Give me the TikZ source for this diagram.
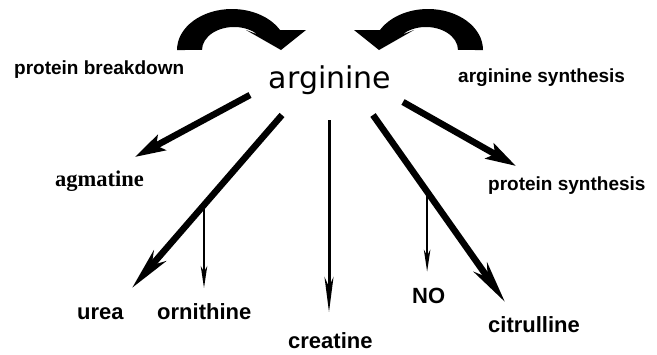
\documentclass[tikz,border=0pt]{standalone}
\usepackage{fontspec}
\setmainfont{Liberation Sans}
\newfontfamily\argfont{DejaVu Sans}
\newfontfamily\agfont{Liberation Serif}
\usetikzlibrary{arrows.meta,calc}
\begin{document}
\begin{tikzpicture}[x=1pt,y=-1pt,
  toplbl/.style={font=\bfseries\fontsize{19}{22}\selectfont, inner sep=0pt, anchor=base west},
  botlbl/.style={font=\bfseries\fontsize{22}{26}\selectfont, inner sep=0pt, anchor=base west},
  arglbl/.style={font=\argfont\fontsize{30}{34}\selectfont, inner sep=0pt, anchor=base},
  aglbl/.style={font=\agfont\bfseries\fontsize{22.5}{26}\selectfont, inner sep=0pt, anchor=base west},
  bigarrow/.style={line width=6.5pt, -{Stealth[length=30pt, width=17pt, inset=6pt]}},
  longarrow/.style={line width=6.5pt, -{Stealth[length=42pt, width=16pt, inset=12pt]}},
  medarrow/.style={line width=3pt, -{Stealth[length=35pt, width=9pt, inset=10pt]}},
  thinarrow/.style={line width=2.2pt, -{Stealth[length=22pt, width=6.5pt, inset=6pt]}},
  curl/.style={fill=black}
]
\useasboundingbox (0,0) rectangle (657,354);

% labels
\node[toplbl] (pb) at (14,74) {protein breakdown};
\node[toplbl] (as) at (458,82) {arginine synthesis};
\node[arglbl] (arg) at (330,88) {arginine};
\node[aglbl] (agm) at (55,186) {agmatine};
\node[toplbl] (ps) at (488,190) {protein synthesis};
\node[botlbl] (urea) at (77,319) {urea};
\node[botlbl] (orn) at (157,319) {ornithine};
\node[botlbl] (cre) at (288,348) {creatine};
\node[botlbl] (no) at (412,303) {NO};
\node[botlbl] (cit) at (488,332) {citrulline};

% curved input arrows
\fill[curl] (177,50) arc[start angle=180, end angle=331, x radius=55, y radius=41]
  -- (306,30) -- (281,50) -- (246,30) -- (257.8,34.6)
  arc[start angle=318, end angle=180, x radius=32, y radius=23] -- cycle;
\fill[curl] (483,50) arc[start angle=360, end angle=209, x radius=55, y radius=41]
  -- (354,30) -- (379,50) -- (414,30) -- (402.2,34.6)
  arc[start angle=222, end angle=360, x radius=32, y radius=23] -- cycle;

% connector end points
\coordinate (sAgm) at (250,95);  \coordinate (eAgm) at (135,157);
\coordinate (sUrea) at (282,115); \coordinate (eUrea) at (132,288);
\coordinate (bOrn) at ($(sUrea)!0.52!(eUrea)$);
\coordinate (eOrn) at (bOrn |- eUrea);
\coordinate (sCre) at (329,120); \coordinate (eCre) at (329,312);
\coordinate (sCit) at (373,115); \coordinate (eCit) at (505,302);
\coordinate (bNO) at ($(sCit)!0.41!(eCit)$);
\coordinate (eNO) at ($(bNO)+(0,80)$);
\coordinate (sPs) at (403,102); \coordinate (ePs) at (516,166);

% connectors
\draw[bigarrow] (sAgm) -- (eAgm);
\draw[longarrow] (sUrea) -- (eUrea);
\draw[thinarrow] (bOrn) -- (eOrn);
\draw[medarrow] (sCre) -- (eCre);
\draw[longarrow] (sCit) -- (eCit);
\draw[thinarrow] (bNO) -- (eNO);
\draw[bigarrow] (sPs) -- (ePs);
\end{tikzpicture}
\end{document}
